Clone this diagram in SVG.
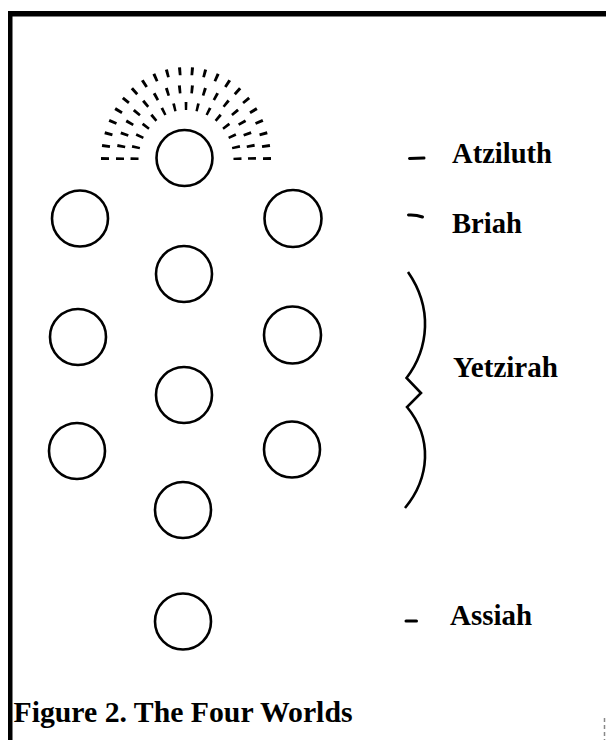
<svg xmlns="http://www.w3.org/2000/svg" width="606" height="740" viewBox="0 0 606 740">
<style>
.node{fill:none;stroke:#000;stroke-width:2.6}
.lbl{font-family:"Liberation Serif","Times New Roman",serif;font-weight:bold;font-size:30px;fill:#000}
.arc{fill:none;stroke:#000;stroke-width:8}
.tick{fill:none;stroke:#000;stroke-width:3;stroke-linecap:round}
</style>
<rect width="606" height="740" fill="#fff"/>
<g id="frame">
<rect x="8" y="11" width="598" height="5.5" fill="#000"/>
<rect x="8" y="11" width="4.5" height="729" fill="#000"/>
<line x1="604.5" y1="718" x2="604.5" y2="740" stroke="#888" stroke-width="1.5" stroke-dasharray="4 3"/>
</g>
<g id="radiance">
<path class="arc" pathLength="100" stroke-dasharray="1.1 3.61" d="M105,160 A81,89 0 0 1 267,160"/>
<path class="arc" pathLength="100" stroke-dasharray="1.3 4.5" d="M120,160 A66,71 0 0 1 252,160"/>
<path class="arc" pathLength="100" stroke-dasharray="1.6 5.43" d="M134.5,160 A51.5,54 0 0 1 237.5,160"/>
</g>
<g id="n1"><circle class="node" cx="184.5" cy="158" r="28"/></g>
<g id="n2"><circle class="node" cx="80" cy="218.5" r="28"/></g>
<g id="n3"><circle class="node" cx="293" cy="218.5" r="28.5"/></g>
<g id="n4"><circle class="node" cx="184" cy="274" r="28"/></g>
<g id="n5"><circle class="node" cx="78" cy="337" r="28"/></g>
<g id="n6"><circle class="node" cx="292.5" cy="335" r="28.5"/></g>
<g id="n7"><circle class="node" cx="184" cy="395" r="28"/></g>
<g id="n8"><circle class="node" cx="77" cy="451" r="28"/></g>
<g id="n9"><circle class="node" cx="292" cy="449.5" r="28"/></g>
<g id="n10"><circle class="node" cx="183" cy="510" r="28"/></g>
<g id="n11"><circle class="node" cx="183" cy="621.5" r="28"/></g>
<g id="connectors">
<path class="tick" d="M409.5,158.5 L424,158"/>
<path class="tick" d="M408.5,215 Q416,214.5 422.5,217"/>
<path class="tick" d="M406,621 L416.5,621"/>
<path fill="none" stroke="#000" stroke-width="2.6" d="M408,272 Q426,298 425,327 Q424,355 406.5,378 L421,393 L407,407 Q426,430 425,458 Q424,485 405,508"/>
</g>
<g id="labels">
<text class="lbl" x="452" y="163" textLength="100" lengthAdjust="spacingAndGlyphs">Atziluth</text>
<text class="lbl" x="452" y="233" textLength="70" lengthAdjust="spacingAndGlyphs">Briah</text>
<text class="lbl" x="453" y="377" textLength="105" lengthAdjust="spacingAndGlyphs">Yetzirah</text>
<text class="lbl" x="450" y="625" textLength="82" lengthAdjust="spacingAndGlyphs">Assiah</text>
<text class="lbl" x="13.5" y="722" textLength="339" lengthAdjust="spacingAndGlyphs">Figure 2. The Four Worlds</text>
</g>
</svg>
